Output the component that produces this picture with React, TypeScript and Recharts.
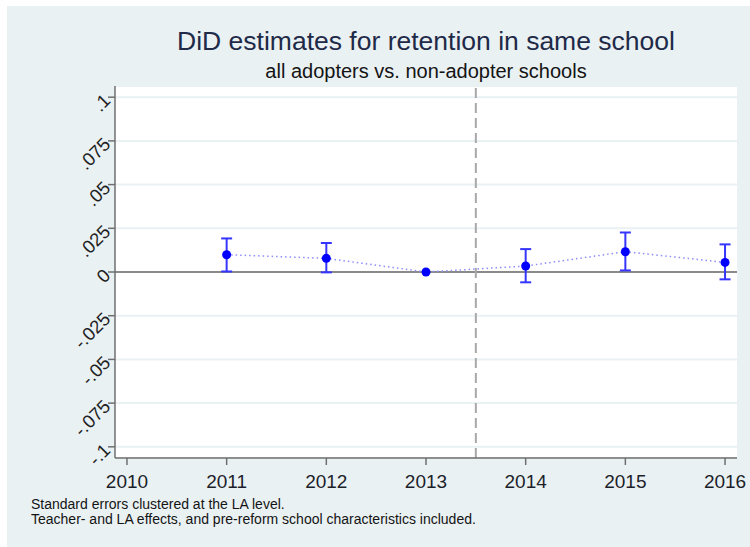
import React from 'react';
import {
  ComposedChart,
  Line,
  ErrorBar,
  XAxis,
  YAxis,
  CartesianGrid,
  ReferenceLine,
} from 'recharts';

// Event years and DiD point estimates with 95% confidence bounds
const years = [2011, 2012, 2013, 2014, 2015, 2016];
const estimates = [0.0099, 0.0078, 0.0, 0.0034, 0.0116, 0.0055];
const lowerBounds = [0.0003, -0.0002, null, -0.0059, 0.0009, -0.0042];
const upperBounds = [0.0192, 0.0166, null, 0.0131, 0.0226, 0.0158];

const xTicks = [2010, 2011, 2012, 2013, 2014, 2015, 2016];
const yTicks = [0.1, 0.075, 0.05, 0.025, 0, -0.025, -0.05, -0.075, -0.1];
const reformLine = 2013.5;

const data = years.map((year, i) => {
  const lo = lowerBounds[i];
  const hi = upperBounds[i];
  return {
    year,
    est: estimates[i],
    err: lo == null || hi == null ? null : [estimates[i] - lo, hi - estimates[i]],
  };
});

const FONT = '"Liberation Sans", Arial, Helvetica, sans-serif';
const BG = '#eaf1f3';
const AXIS = '#6f6f6f';

const fmtY = (v: number) => {
  if (v === 0) return '0';
  const s = String(Math.abs(v)).replace(/^0/, '');
  return (v < 0 ? '-' : '') + s;
};

const YTick = (props: any) => {
  const { x, y, payload } = props;
  const ax = x + 1;
  return (
    <text
      x={ax}
      y={y}
      transform={`rotate(-45 ${ax} ${y})`}
      textAnchor="end"
      dominantBaseline="central"
      fontFamily={FONT}
      fontSize={18.5}
      fill="#1f1f24"
    >
      {fmtY(payload.value)}
    </text>
  );
};

const XTick = (props: any) => {
  const { x, y, payload } = props;
  return (
    <text
      x={x}
      y={y + 21}
      textAnchor="middle"
      fontFamily={FONT}
      fontSize={19}
      fill="#1c1f2a"
    >
      {payload.value}
    </text>
  );
};

export default function App() {
  return (
    <div
      style={{
        position: 'absolute',
        left: 7,
        top: 6,
        width: 743,
        height: 541,
        background: BG,
      }}
    >
      <ComposedChart
        width={743}
        height={541}
        data={data}
        margin={{ top: 80, right: 13, bottom: 49, left: 0 }}
      >
        <CartesianGrid
          horizontal
          vertical={false}
          stroke={BG}
          strokeWidth={2}
          fill="#ffffff"
          fillOpacity={1}
        />
        <XAxis
          dataKey="year"
          type="number"
          domain={[2009.88, 2016.12]}
          ticks={xTicks}
          allowDataOverflow
          height={40}
          axisLine={{ stroke: AXIS, strokeWidth: 1.5 }}
          tickLine={{ stroke: AXIS, strokeWidth: 1.5 }}
          tickSize={7}
          tick={<XTick />}
        />
        <YAxis
          type="number"
          domain={[-0.1064, 0.1064]}
          ticks={yTicks}
          allowDataOverflow
          width={108}
          axisLine={{ stroke: AXIS, strokeWidth: 1.5 }}
          tickLine={{ stroke: AXIS, strokeWidth: 1.5 }}
          tickSize={7}
          tick={<YTick />}
        />
        <ReferenceLine y={0} stroke="#8a8a8a" strokeWidth={2} />
        <ReferenceLine
          x={reformLine}
          stroke="#a8a8a8"
          strokeWidth={2}
          strokeDasharray="10 5"
        />
        <Line
          dataKey="est"
          stroke="#8c8cff"
          strokeWidth={1.5}
          strokeDasharray="1.5 3"
          isAnimationActive={false}
          dot={{ r: 4.5, fill: '#0000ff', stroke: '#0000ff', strokeWidth: 0 }}
          activeDot={false}
        >
          <ErrorBar
            dataKey="err"
            direction="y"
            width={5.5}
            stroke="#3535ff"
            strokeWidth={2}
            isAnimationActive={false}
          />
        </Line>
        <text
          x={419}
          y={44}
          textAnchor="middle"
          fontFamily={FONT}
          fontSize={26.5}
          fill="#1e2a48"
        >
          DiD estimates for retention in same school
        </text>
        <text
          x={419}
          y={72}
          textAnchor="middle"
          fontFamily={FONT}
          fontSize={20}
          fill="#141414"
        >
          all adopters vs. non-adopter schools
        </text>
        <text x={24} y={503} fontFamily={FONT} fontSize={14} fill="#141414">
          Standard errors clustered at the LA level.
        </text>
        <text x={24} y={517.5} fontFamily={FONT} fontSize={14} fill="#141414">
          Teacher- and LA effects, and pre-reform school characteristics included.
        </text>
      </ComposedChart>
    </div>
  );
}
